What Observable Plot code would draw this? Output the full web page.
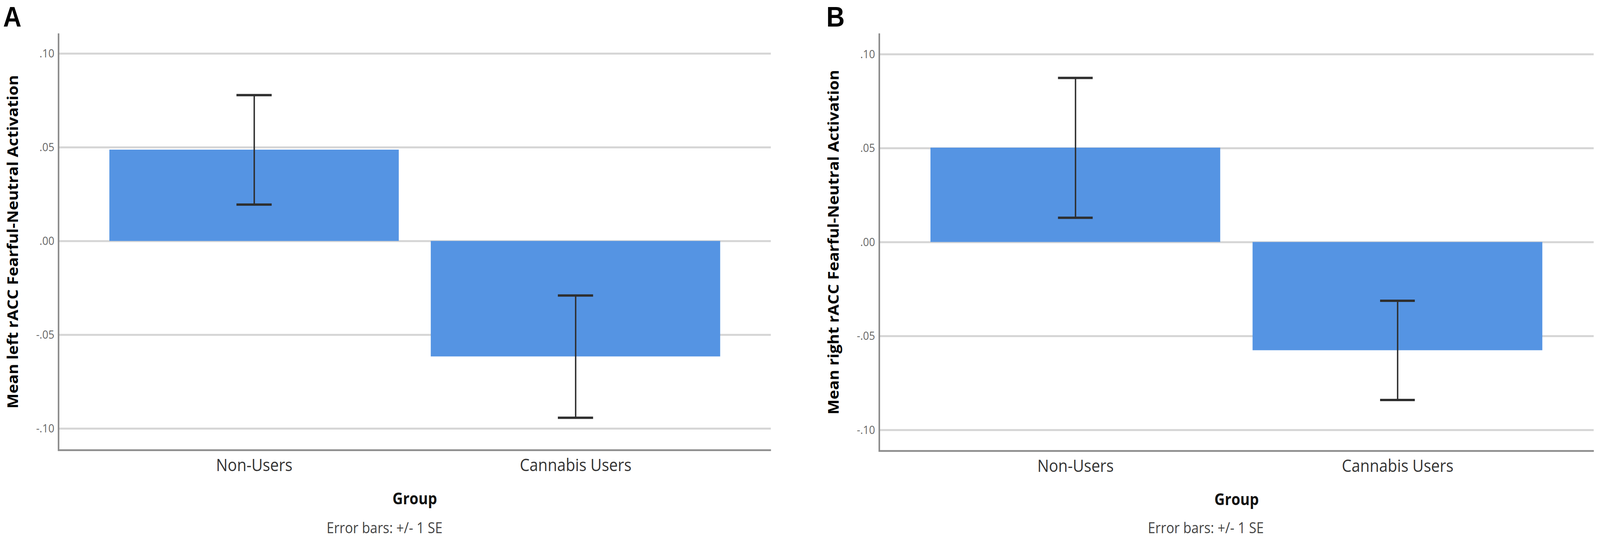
<!DOCTYPE html>
<html><head><meta charset="utf-8">
<script src="https://cdn.jsdelivr.net/npm/d3@7"></script>
<script src="https://cdn.jsdelivr.net/npm/@observablehq/plot@0.6"></script>
<style>
html,body{margin:0;padding:0;background:#fff;overflow:hidden;}
#outer{position:relative;overflow:hidden;}
#wrap{position:absolute;left:0;top:0;width:4550px;height:1385px;overflow:hidden;font-family:"Open Sans",sans-serif;transform-origin:0 0;background:#fff;}
.panel{position:absolute;top:0;}
.letter{position:absolute;top:7px;font-family:"Liberation Sans",Arial,sans-serif;font-weight:bold;font-size:72px;line-height:72px;color:#000;}
.caption{position:absolute;top:1331px;font-family:"Open Sans",sans-serif;font-size:38px;line-height:38px;color:#444;text-align:center;white-space:nowrap;}
g[aria-label="y-axis label"]{font-weight:700;font-size:41px;fill:#000;}
g[aria-label="x-axis label"]{font-weight:700;font-size:41px;fill:#111;}
</style>
</head><body>
<div id="outer">
<div id="wrap">
  <div class="panel" id="panelA" style="left:0px;width:2240px;"></div>
  <div class="panel" id="panelB" style="left:2300px;width:2250px;"></div>
  <div class="letter" id="letterA" style="left:9px;"></div>
  <div class="letter" id="letterB" style="left:2350px;"></div>
  <div class="caption" id="capA" style="left:0px;width:2187px;"></div>
  <div class="caption" id="capB" style="left:2300px;width:2258px;"></div>
</div>
</div>
<script>
const groups = ["Non-Users", "Cannabis Users"];
const leftMeans = [0.0487, -0.0616];
const leftSE = [0.0292, 0.0326];
const rightMeans = [0.0502, -0.0576];
const rightSE = [0.0372, 0.0264];
const yTicks = [-0.10, -0.05, 0, 0.05, 0.10];
const yTickLabels = ["-.10", "-.05", ".00", ".05", ".10"];
const panelLetters = ["A", "B"];
const yLabels = ["Mean left rACC Fearful-Neutral Activation", "Mean right rACC Fearful-Neutral Activation"];
const xLabel = "Group";
const captionText = "Error bars: +/- 1 SE";

const barColor = "#5594e3";
const errColor = "#2e2e2e";
const padInner = 0.1, padOuter = 0.158;

function makePanel({means, se, yLabel, width, height, marginLeft, marginRight, marginTop, marginBottom, domain}) {
  const data = groups.map((g, i) => ({group: g, mean: means[i], lo: means[i] - se[i], hi: means[i] + se[i]}));
  const W = width - marginLeft - marginRight;
  const H = height - marginTop - marginBottom;
  const step = W / (groups.length - padInner + 2 * padOuter);
  const bandwidth = step * (1 - padInner);
  const capInset = (bandwidth - 100) / 2;
  return Plot.plot({
    width, height, marginLeft, marginRight, marginTop, marginBottom,
    style: {fontFamily: '"Open Sans", sans-serif', background: "transparent", overflow: "visible"},
    x: {domain: groups, paddingInner: padInner, paddingOuter: padOuter, label: null},
    y: {domain, label: null},
    marks: [
      Plot.ruleY(yTicks, {stroke: "#d5d5d5", strokeWidth: 5}),
      Plot.barY(data, {x: "group", y: "mean", fill: barColor}),
      Plot.ruleX(data, {x: "group", y1: "lo", y2: "hi", stroke: errColor, strokeWidth: 4}),
      Plot.tickY(data, {x: "group", y: "lo", stroke: errColor, strokeWidth: 6, inset: capInset}),
      Plot.tickY(data, {x: "group", y: "hi", stroke: errColor, strokeWidth: 6, inset: capInset}),
      Plot.frame({stroke: "#8c8c8c", strokeWidth: 4.5, strokeDasharray: `0 ${W + H} ${W + H} 0`}),
      Plot.axisY({ticks: yTicks, tickFormat: (d) => yTickLabels[yTicks.indexOf(d)], tickSize: 0, tickPadding: 12,
        fontSize: 30, fill: "#666", label: yLabel, labelAnchor: "center", labelOffset: 145, labelArrow: "none"}),
      Plot.axisX({tickSize: 0, tickPadding: 22, fontSize: 44, fill: "#333",
        label: xLabel, labelAnchor: "center", labelOffset: 138, labelArrow: "none"})
    ]
  });
}

document.getElementById("panelA").appendChild(makePanel({
  means: leftMeans, se: leftSE, yLabel: yLabels[0],
  width: 2240, height: 1310, marginLeft: 166, marginRight: 48, marginTop: 85, marginBottom: 158,
  domain: [-0.1115, 0.1108]
}));
document.getElementById("panelB").appendChild(makePanel({
  means: rightMeans, se: rightSE, yLabel: yLabels[1],
  width: 2250, height: 1310, marginLeft: 200, marginRight: 18, marginTop: 85, marginBottom: 156,
  domain: [-0.1111, 0.1111]
}));
document.getElementById("letterA").textContent = panelLetters[0];
document.getElementById("letterB").textContent = panelLetters[1];
document.getElementById("capA").textContent = captionText;
document.getElementById("capB").textContent = captionText;

// Fit the 4550x1385 design into the actual viewport
function fit() {
  const vw = document.documentElement.clientWidth || window.innerWidth || 4550;
  const vh = document.documentElement.clientHeight || window.innerHeight || 1385;
  const sx = Math.min(1, vw / 4550);
  const sy = Math.min(1, vh / 1385);
  const wrap = document.getElementById("wrap");
  const outer = document.getElementById("outer");
  wrap.style.transform = `scale(${sx}, ${sy})`;
  outer.style.width = (4550 * sx) + "px";
  outer.style.height = (1385 * sy) + "px";
}
fit();
window.addEventListener("resize", fit);
</script>
</body></html>
